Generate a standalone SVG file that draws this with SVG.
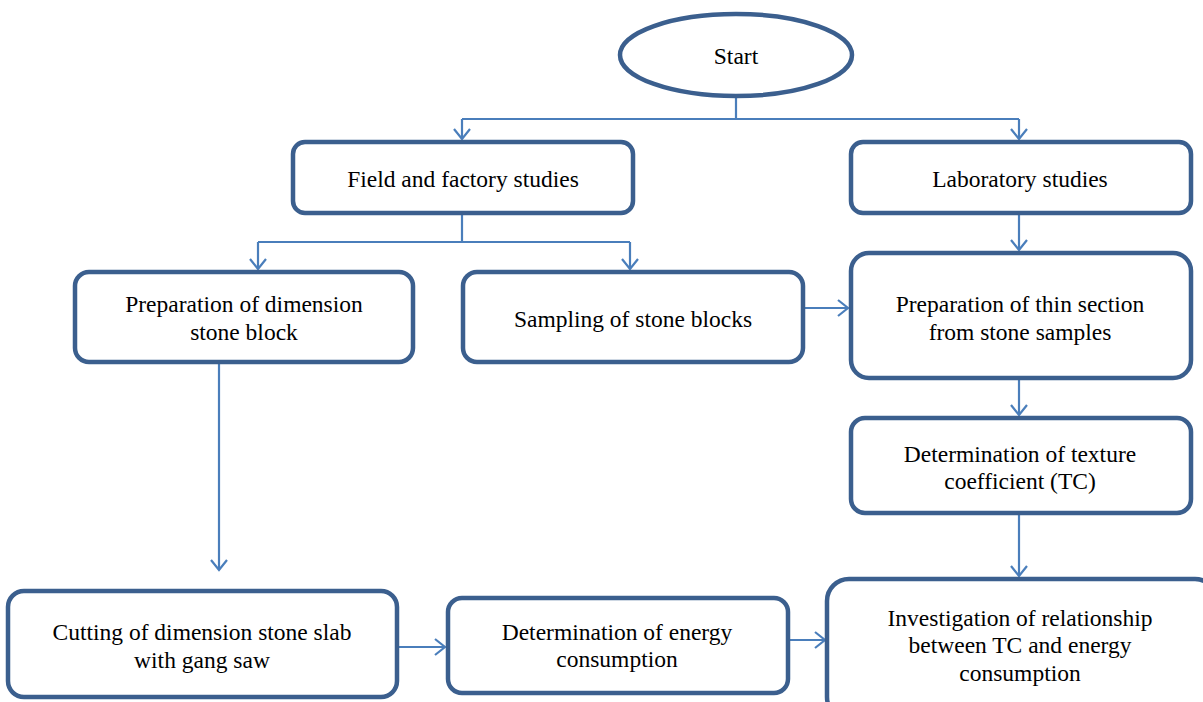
<svg xmlns="http://www.w3.org/2000/svg" width="1203" height="702" viewBox="0 0 1203 702">
<style>
.box{fill:#fff;stroke:#3b5f8e;stroke-width:4.5}
.c{fill:none;stroke:#4a7ebb;stroke-width:2.2}
.t{font-family:'Liberation Serif','Times New Roman',Times,serif;font-size:23.5px;fill:#000;text-anchor:middle}
</style>
<defs>
<marker id="a" markerUnits="userSpaceOnUse" markerWidth="24" markerHeight="24" refX="12" refY="12" orient="auto" overflow="visible">
<polyline points="2,4 12,12 2,20" fill="none" stroke="#4a7ebb" stroke-width="2.2"/>
</marker>
</defs>
<rect width="1203" height="702" fill="#fff"/>
<g id="connectors">
<path class="c" d="M736,97 V119 M462,119 H1019"/>
<path class="c" d="M462,119 V139" marker-end="url(#a)"/>
<path class="c" d="M1019,119 V139" marker-end="url(#a)"/>
<path class="c" d="M462,213 V242 M258,242 H630"/>
<path class="c" d="M258,242 V269" marker-end="url(#a)"/>
<path class="c" d="M630,242 V269" marker-end="url(#a)"/>
<path class="c" d="M1019,213 V250" marker-end="url(#a)"/>
<path class="c" d="M803,308 H848" marker-end="url(#a)"/>
<path class="c" d="M1019,378 V415" marker-end="url(#a)"/>
<path class="c" d="M1019,513 V576" marker-end="url(#a)"/>
<path class="c" d="M219,362 V570" marker-end="url(#a)"/>
<path class="c" d="M398,647 H445" marker-end="url(#a)"/>
<path class="c" d="M788,640 H825" marker-end="url(#a)"/>
</g>
<g id="start">
<ellipse class="box" cx="736" cy="55" rx="116" ry="41"/>
<text class="t" x="736" y="64">Start</text>
</g>
<g id="field">
<rect class="box" x="293" y="142" width="340" height="71" rx="12"/>
<text class="t" x="463" y="187">Field and factory studies</text>
</g>
<g id="lab">
<rect class="box" x="851" y="142" width="340" height="71" rx="12"/>
<text class="t" x="1020" y="187">Laboratory studies</text>
</g>
<g id="prep-block">
<rect class="box" x="75" y="272" width="338" height="90" rx="14"/>
<text class="t" x="244" y="312">Preparation of dimension</text>
<text class="t" x="244" y="340">stone block</text>
</g>
<g id="sampling">
<rect class="box" x="463" y="272" width="340" height="90" rx="14"/>
<text class="t" x="633" y="327">Sampling of stone blocks</text>
</g>
<g id="thin-section">
<rect class="box" x="851" y="253" width="340" height="125" rx="18"/>
<text class="t" x="1020" y="312">Preparation of thin section</text>
<text class="t" x="1020" y="340">from stone samples</text>
</g>
<g id="texture">
<rect class="box" x="851" y="418" width="340" height="95" rx="14"/>
<text class="t" x="1020" y="462">Determination of texture</text>
<text class="t" x="1020" y="489">coefficient (TC)</text>
</g>
<g id="cutting">
<rect class="box" x="8" y="591" width="389" height="106" rx="16"/>
<text class="t" x="202" y="640">Cutting of dimension stone slab</text>
<text class="t" x="202" y="668">with gang saw</text>
</g>
<g id="energy">
<rect class="box" x="448" y="598" width="340" height="95" rx="14"/>
<text class="t" x="617" y="640">Determination of energy</text>
<text class="t" x="617" y="667">consumption</text>
</g>
<g id="investigation">
<rect class="box" x="827" y="579" width="390" height="140" rx="22"/>
<text class="t" x="1020" y="626">Investigation of relationship</text>
<text class="t" x="1020" y="653">between TC and energy</text>
<text class="t" x="1020" y="681">consumption</text>
</g>
</svg>
